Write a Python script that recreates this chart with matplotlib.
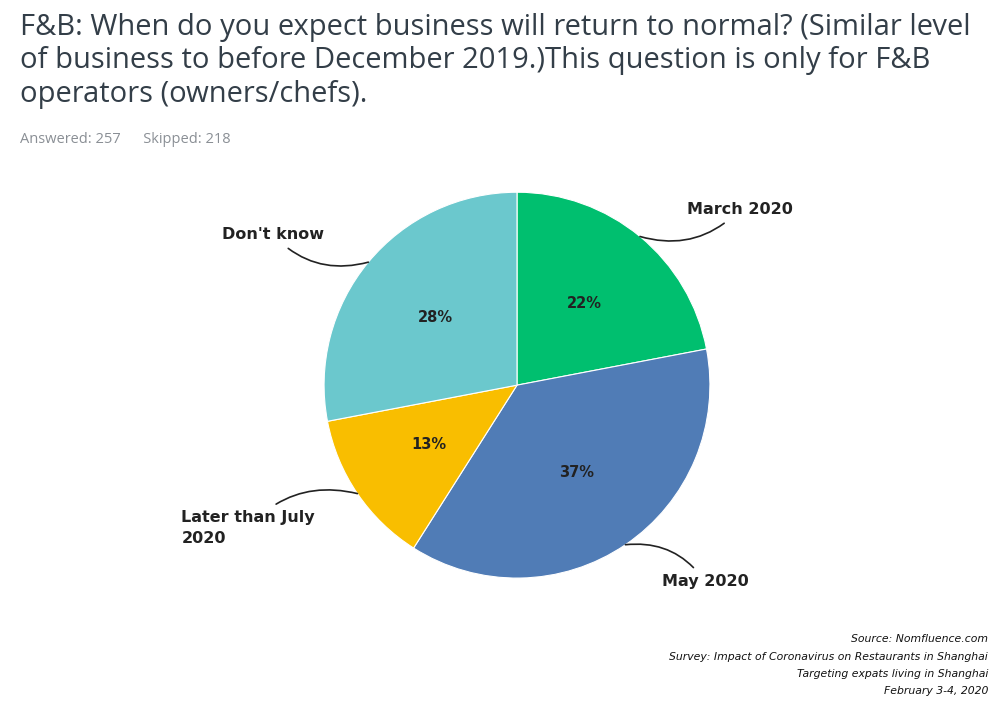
import matplotlib
matplotlib.use("Agg")
import matplotlib.pyplot as plt
import numpy as np

categories = ["March 2020", "May 2020", "Later than July\n2020", "Don't know"]
values = [22, 37, 13, 28]
colors = ["#00bf6f", "#507cb6", "#f9be00", "#6bc8cd"]

fig = plt.figure(figsize=(10, 7.08), dpi=100)
fig.text(0.02, 0.982, "F&B: When do you expect business will return to normal? (Similar level\nof business to before December 2019.)This question is only for F&B\noperators (owners/chefs).",
         ha="left", va="top", fontsize=21, color="#333e48", family="Open Sans", linespacing=1.2)
fig.text(0.02, 0.803, "Answered: 257      Skipped: 218", ha="left", va="center", fontsize=10.5, color="#8a8f95", family="Open Sans")

ax = fig.add_axes([0.517-0.193, 0.456-0.2725, 0.386, 0.545])
wedges, texts = ax.pie(values, colors=colors, startangle=90, counterclock=False,
                       wedgeprops=dict(edgecolor="white", linewidth=0.8))
ax.set_aspect("equal")
ax.set_xlim(-1, 1); ax.set_ylim(-1, 1)

for w, v in zip(wedges, values):
    ang = np.deg2rad((w.theta1 + w.theta2) / 2)
    ax.text(0.55*np.cos(ang), 0.55*np.sin(ang), f"{v}%", ha="center", va="center",
            fontsize=10.5, fontweight="bold", color="#222222")

label_pos = [(0.88, 0.91), (0.75, -1.02), (-1.74, -0.74), (-1.0, 0.78)]
aligns = ["left", "left", "left", "right"]
rads = [-0.3, 0.3, -0.3, 0.3]
anchors = [(0, 0.5), (0, 0.5), (0.85, 0.75), (1, 0.5)]
for w, lab, pos, ha, r in zip(wedges, categories, label_pos, aligns, rads):
    ang = np.deg2rad((w.theta1 + w.theta2) / 2)
    xy = (np.cos(ang), np.sin(ang))
    ax.annotate(lab, xy=xy, xytext=pos, ha=ha, va="center", fontsize=11.5, fontweight="bold",
                color="#222222", linespacing=1.5,
                arrowprops=dict(arrowstyle="-", color="#222222", lw=1.2,
                                connectionstyle=f"arc3,rad={r}", shrinkA=4, shrinkB=0),
                annotation_clip=False)

src = ["Source: Nomfluence.com", "Survey: Impact of Coronavirus on Restaurants in Shanghai",
       "Targeting expats living in Shanghai", "February 3-4, 2020"]
for i, s in enumerate(src):
    fig.text(0.988, 0.097 - i*0.0245, s, ha="right", va="center", fontsize=7.8, style="italic", color="#111111")

fig.savefig("out.png", dpi=100)
